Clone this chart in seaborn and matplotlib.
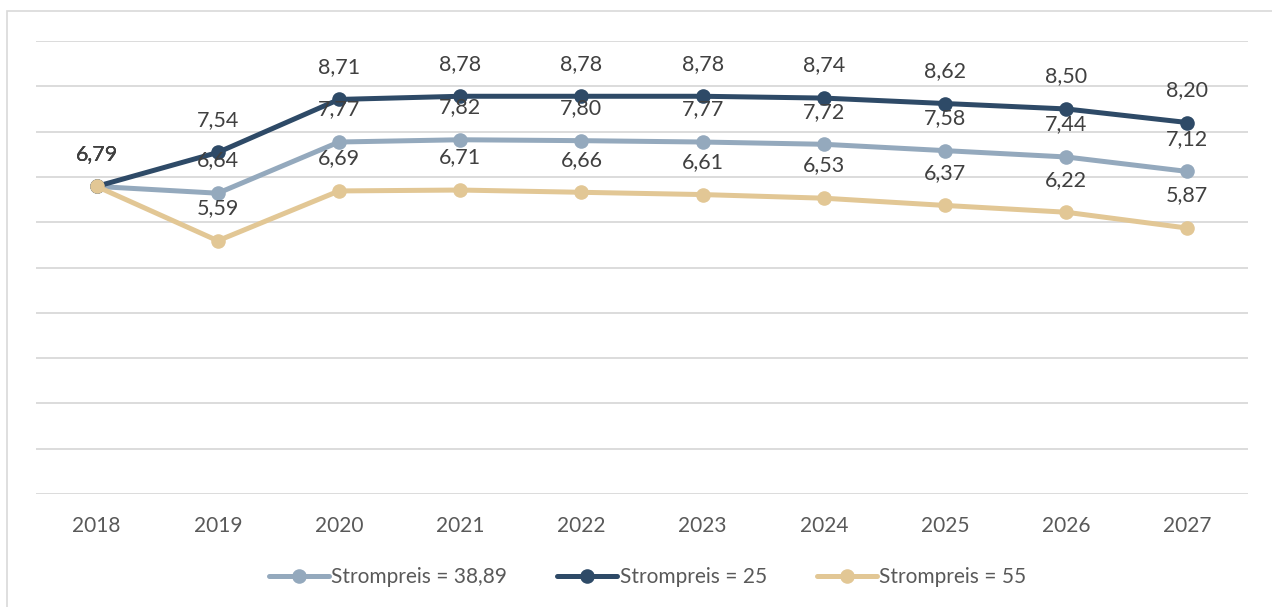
import matplotlib
matplotlib.use("Agg")
import matplotlib.pyplot as plt
from matplotlib.patches import Rectangle
import seaborn as sns
import pandas as pd

jahre = ["2018", "2019", "2020", "2021", "2022", "2023", "2024", "2025", "2026", "2027"]
preis_3889 = [6.79, 6.64, 7.77, 7.82, 7.80, 7.77, 7.72, 7.58, 7.44, 7.12]
preis_25 = [6.79, 7.54, 8.71, 8.78, 8.78, 8.78, 8.74, 8.62, 8.50, 8.20]
preis_55 = [6.79, 5.59, 6.69, 6.71, 6.66, 6.61, 6.53, 6.37, 6.22, 5.87]
serien = ["Strompreis = 38,89", "Strompreis = 25", "Strompreis = 55"]
farben = ["#94A9BD", "#2E4A67", "#E2C795"]

sns.set_theme(style="white")
plt.rcParams["font.family"] = ["Lato", "DejaVu Sans"]

# Daten in langes Format bringen
zeilen = []
for name, werte in zip(serien, [preis_3889, preis_25, preis_55]):
    for i, w in enumerate(werte):
        zeilen.append({"idx": i, "wert": w, "serie": name})
df = pd.DataFrame(zeilen)

fig = plt.figure(figsize=(12.72, 6.07), dpi=100)
ax = fig.add_axes([36 / 1272, 113 / 607, 1212 / 1272, 453 / 607])

sns.lineplot(data=df, x="idx", y="wert", hue="serie", hue_order=serien,
             palette=farben, marker="o", markersize=10.5, markeredgewidth=0,
             linewidth=3.6, ax=ax, legend=True)

# Datenbeschriftungen
for werte in [preis_3889, preis_25, preis_55]:
    for i, w in enumerate(werte):
        ax.annotate(f"{w:.2f}".replace(".", ","), (i, w), xytext=(0, 23.5),
                    textcoords="offset points", ha="center", va="center",
                    fontsize=15.5, color="#404040")

ax.set_xlim(-0.5, 9.5)
ax.set_ylim(0, 10)
ax.set_yticks(range(0, 11))
ax.set_yticklabels([])
ax.set_xticks(range(len(jahre)))
ax.set_xticklabels(jahre, fontsize=15, color="#595959")
ax.tick_params(axis="both", length=0)
ax.tick_params(axis="x", pad=16)
ax.grid(axis="y", color="#D9D9D9", linewidth=1.3)
ax.set_axisbelow(True)
ax.set_xlabel("")
ax.set_ylabel("")
for s in ax.spines.values():
    s.set_visible(False)

handles, labels = ax.get_legend_handles_labels()
ax.legend_.remove()
fig.legend(handles, labels, loc="center", bbox_to_anchor=(0.509, 30 / 607), ncol=3,
           frameon=False, fontsize=15, handlelength=2.9, handletextpad=0.1,
           columnspacing=2.4, labelcolor="#595959")

fig.patches.append(Rectangle((7 / 1272, -0.01), 1.0, 1 - 11 / 607 + 0.01,
                             transform=fig.transFigure, fill=False,
                             edgecolor="#D9D9D9", linewidth=1.2))

fig.savefig("out.png", dpi=100)
